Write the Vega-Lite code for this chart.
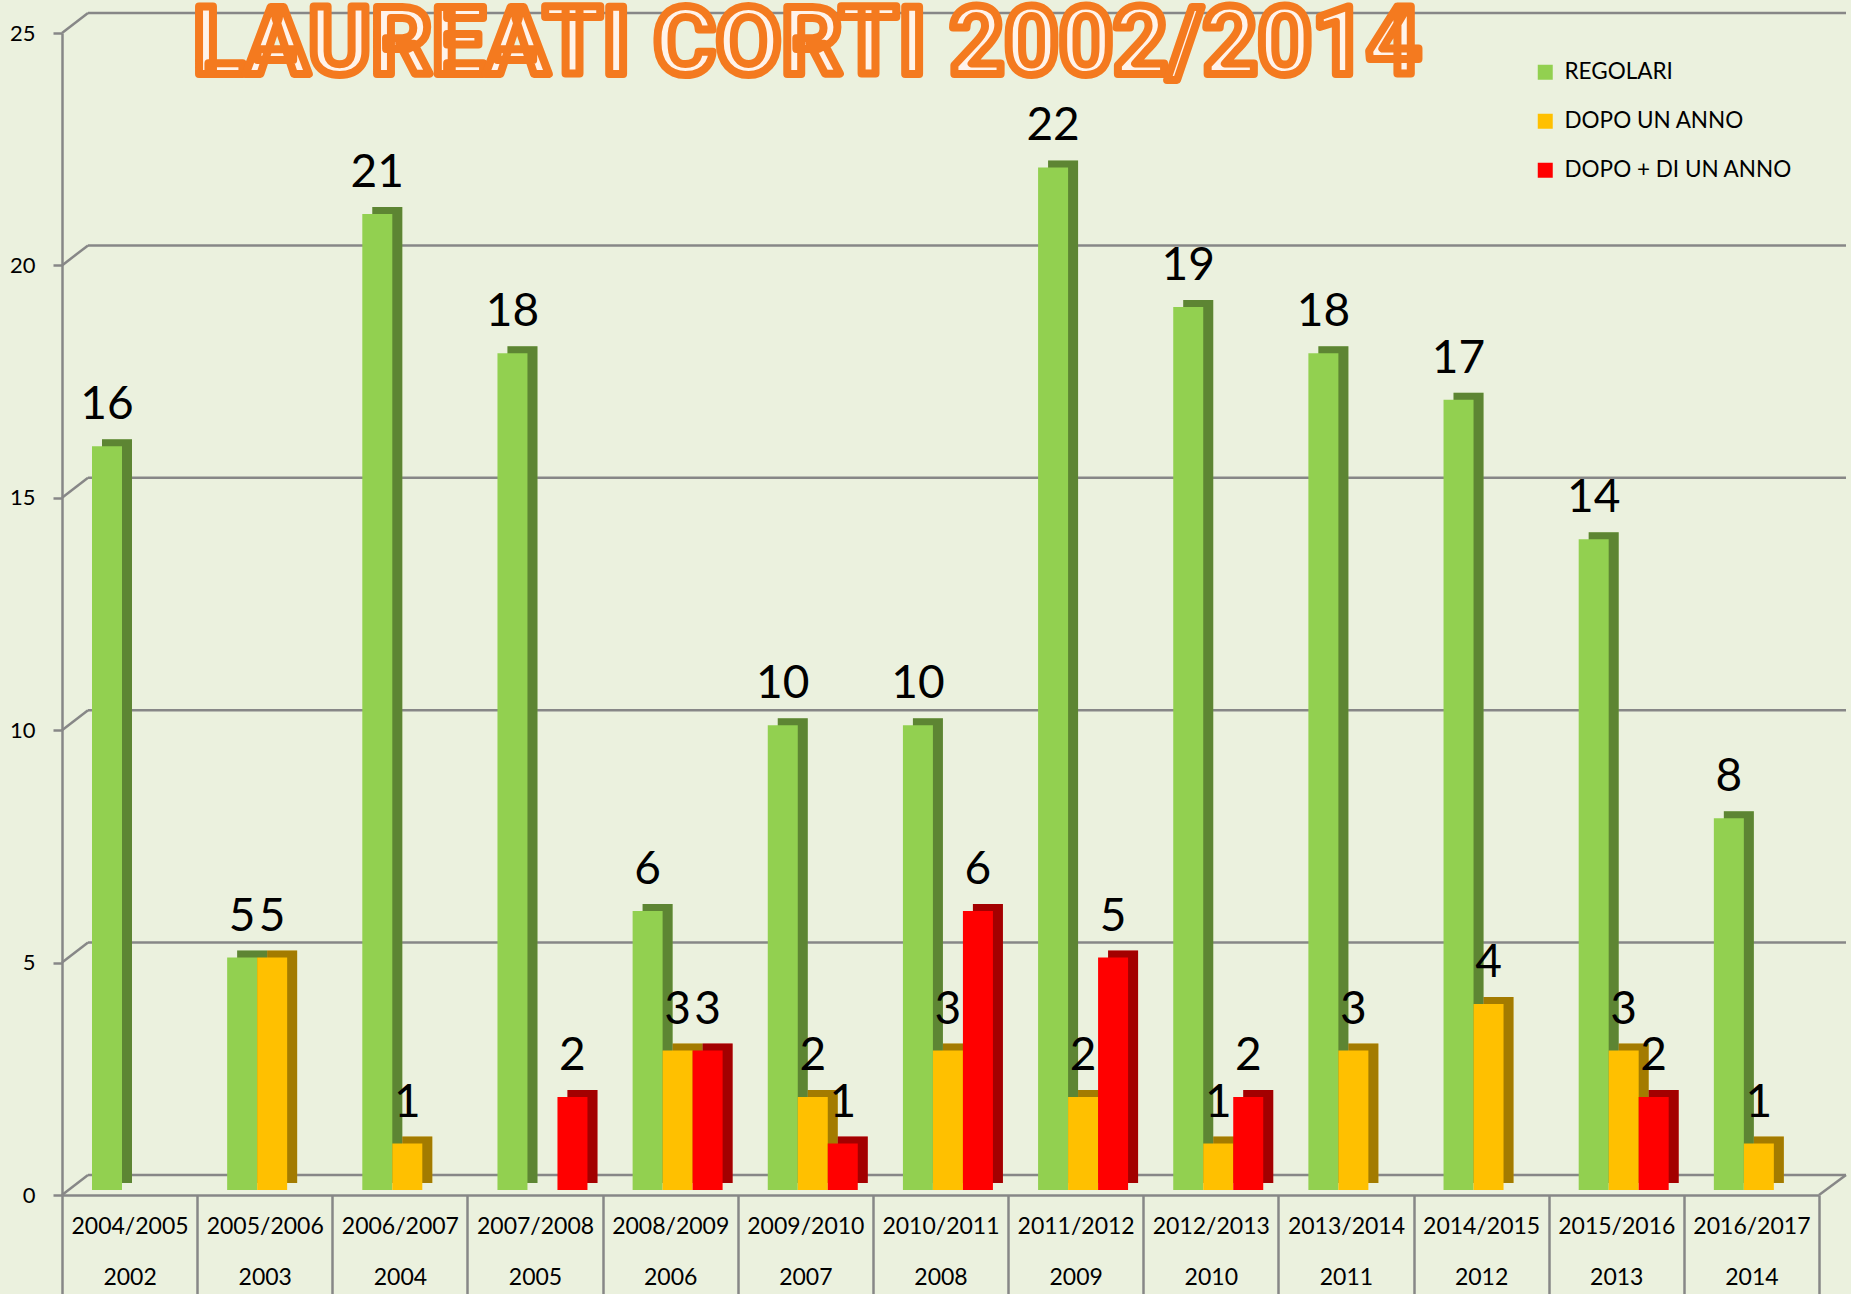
{
  "$schema": "https://vega.github.io/schema/vega-lite/v6.json",
  "autosize": {"type": "none"},
  "width": 1757,
  "height": 1162,
  "padding": {"left": 62, "top": 33, "right": 32, "bottom": 99},
  "background": "#EBF1DE",
  "config": {
    "view": {"stroke": null},
    "font": "Lato",
    "style": {"tstroke": {"stroke": "#F47A1F", "strokeWidth": 8, "strokeJoin": "round"}}
  },
  "title": {
    "text": "LAUREATI CORTI 2002/2014",
    "font": "Roboto",
    "fontSize": 95,
    "fontWeight": "bold",
    "color": "#FFF3EA",
    "anchor": "start",
    "frame": "group",
    "baseline": "alphabetic",
    "offset": 0,
    "dx": 131,
    "dy": 157,
    "style": "tstroke"
  },
  "datasets": {
    "tacche": [{"v": 0}, {"v": 5}, {"v": 10}, {"v": 15}, {"v": 20}, {"v": 25}],
    "laureati": [
      {"sessione": "2004/2005", "anno": "2002", "serie": "REGOLARI", "valore": 16},
      {"sessione": "2005/2006", "anno": "2003", "serie": "REGOLARI", "valore": 5},
      {"sessione": "2005/2006", "anno": "2003", "serie": "DOPO UN ANNO", "valore": 5},
      {"sessione": "2006/2007", "anno": "2004", "serie": "REGOLARI", "valore": 21},
      {"sessione": "2006/2007", "anno": "2004", "serie": "DOPO UN ANNO", "valore": 1},
      {"sessione": "2007/2008", "anno": "2005", "serie": "REGOLARI", "valore": 18},
      {"sessione": "2007/2008", "anno": "2005", "serie": "DOPO + DI UN ANNO", "valore": 2},
      {"sessione": "2008/2009", "anno": "2006", "serie": "REGOLARI", "valore": 6},
      {"sessione": "2008/2009", "anno": "2006", "serie": "DOPO UN ANNO", "valore": 3},
      {"sessione": "2008/2009", "anno": "2006", "serie": "DOPO + DI UN ANNO", "valore": 3},
      {"sessione": "2009/2010", "anno": "2007", "serie": "REGOLARI", "valore": 10},
      {"sessione": "2009/2010", "anno": "2007", "serie": "DOPO UN ANNO", "valore": 2},
      {"sessione": "2009/2010", "anno": "2007", "serie": "DOPO + DI UN ANNO", "valore": 1},
      {"sessione": "2010/2011", "anno": "2008", "serie": "REGOLARI", "valore": 10},
      {"sessione": "2010/2011", "anno": "2008", "serie": "DOPO UN ANNO", "valore": 3},
      {"sessione": "2010/2011", "anno": "2008", "serie": "DOPO + DI UN ANNO", "valore": 6},
      {"sessione": "2011/2012", "anno": "2009", "serie": "REGOLARI", "valore": 22},
      {"sessione": "2011/2012", "anno": "2009", "serie": "DOPO UN ANNO", "valore": 2},
      {"sessione": "2011/2012", "anno": "2009", "serie": "DOPO + DI UN ANNO", "valore": 5},
      {"sessione": "2012/2013", "anno": "2010", "serie": "REGOLARI", "valore": 19},
      {"sessione": "2012/2013", "anno": "2010", "serie": "DOPO UN ANNO", "valore": 1},
      {"sessione": "2012/2013", "anno": "2010", "serie": "DOPO + DI UN ANNO", "valore": 2},
      {"sessione": "2013/2014", "anno": "2011", "serie": "REGOLARI", "valore": 18},
      {"sessione": "2013/2014", "anno": "2011", "serie": "DOPO UN ANNO", "valore": 3},
      {"sessione": "2014/2015", "anno": "2012", "serie": "REGOLARI", "valore": 17},
      {"sessione": "2014/2015", "anno": "2012", "serie": "DOPO UN ANNO", "valore": 4},
      {"sessione": "2015/2016", "anno": "2013", "serie": "REGOLARI", "valore": 14},
      {"sessione": "2015/2016", "anno": "2013", "serie": "DOPO UN ANNO", "valore": 3},
      {"sessione": "2015/2016", "anno": "2013", "serie": "DOPO + DI UN ANNO", "valore": 2},
      {"sessione": "2016/2017", "anno": "2014", "serie": "REGOLARI", "valore": 8},
      {"sessione": "2016/2017", "anno": "2014", "serie": "DOPO UN ANNO", "valore": 1}
    ]
  },
  "layer": [
    {
      "data": {"name": "tacche"},
      "mark": {"type": "rule", "color": "#878787", "strokeWidth": 2.5, "xOffset": 26, "x2Offset": 27, "yOffset": -20},
      "encoding": {
        "x": {"value": 0},
        "x2": {"value": "width"},
        "y": {
          "field": "v",
          "type": "quantitative",
          "scale": {"domain": [0, 25], "nice": false, "zero": true},
          "axis": {
            "title": null,
            "values": [0, 5, 10, 15, 20, 25],
            "grid": false,
            "domainColor": "#878787",
            "domainWidth": 2.5,
            "tickColor": "#878787",
            "tickWidth": 2.5,
            "tickSize": 9,
            "labelPadding": 18,
            "labelFontSize": 22,
            "labelFont": "Lato",
            "labelColor": "#000000"
          }
        }
      }
    },
    {
      "data": {"name": "tacche"},
      "mark": {"type": "rule", "color": "#878787", "strokeWidth": 2.5, "x2Offset": 26, "y2Offset": -20},
      "encoding": {
        "x": {"value": 0},
        "x2": {"value": 0},
        "y": {"field": "v", "type": "quantitative"},
        "y2": {"field": "v"}
      }
    },
    {
      "data": {"name": "tacche"},
      "transform": [{"filter": "datum.v == 0"}],
      "mark": {"type": "rule", "color": "#878787", "strokeWidth": 2.5, "x2Offset": 27, "y2Offset": -20},
      "encoding": {
        "x": {"value": "width"},
        "x2": {"value": "width"},
        "y": {"field": "v", "type": "quantitative"},
        "y2": {"field": "v"}
      }
    },
    {
      "data": {"name": "laureati"},
      "mark": {"type": "bar", "yOffset": -12, "y2Offset": -12},
      "encoding": {
        "x": {
          "field": "sessione",
          "type": "nominal",
          "sort": null,
          "scale": {"paddingInner": 0, "paddingOuter": 0},
          "axis": {
            "title": null,
            "domainColor": "#878787",
            "domainWidth": 2.5,
            "tickColor": "#878787",
            "tickWidth": 2.5,
            "tickSize": 100,
            "tickBand": "extent",
            "labelPadding": -80,
            "labelFontSize": 23,
            "labelFont": "Lato",
            "labelColor": "#000000",
            "labelAngle": 0,
            "labelBaseline": "top",
            "labelLineHeight": 51,
            "labelExpr": "datum.label ? [datum.label, toString(toNumber(slice(datum.label, 0, 4)) - 2)] : ''"
          }
        },
        "xOffset": {
          "field": "serie",
          "type": "nominal",
          "scale": {"domain": ["REGOLARI", "DOPO UN ANNO", "DOPO + DI UN ANNO"], "range": [40, 130], "paddingInner": 0, "paddingOuter": 0}
        },
        "y": {"field": "valore", "type": "quantitative"},
        "color": {"field": "serie", "type": "nominal"}
      }
    },
    {
      "data": {"name": "laureati"},
      "mark": {"type": "bar", "yOffset": -12, "y2Offset": -12, "color": "#000000", "opacity": 0.36},
      "encoding": {
        "x": {"field": "sessione", "type": "nominal", "sort": null},
        "xOffset": {
          "field": "serie",
          "type": "nominal",
          "scale": {"domain": ["REGOLARI", "DOPO UN ANNO", "DOPO + DI UN ANNO"], "range": [40, 130], "paddingInner": 0, "paddingOuter": 0}
        },
        "y": {"field": "valore", "type": "quantitative"}
      }
    },
    {
      "data": {"name": "laureati"},
      "mark": {"type": "bar", "yOffset": -5, "y2Offset": -5},
      "encoding": {
        "x": {"field": "sessione", "type": "nominal", "sort": null},
        "xOffset": {
          "field": "serie",
          "type": "nominal",
          "scale": {"domain": ["REGOLARI", "DOPO UN ANNO", "DOPO + DI UN ANNO"], "range": [30, 120], "paddingInner": 0, "paddingOuter": 0}
        },
        "y": {"field": "valore", "type": "quantitative"},
        "color": {
          "field": "serie",
          "type": "nominal",
          "scale": {"domain": ["REGOLARI", "DOPO UN ANNO", "DOPO + DI UN ANNO"], "range": ["#92D050", "#FFC000", "#FF0000"]},
          "legend": {
            "title": null,
            "orient": "none",
            "legendX": 1472,
            "legendY": 28,
            "symbolType": "square",
            "symbolSize": 225,
            "symbolStrokeWidth": 0,
            "symbolOpacity": 1,
            "labelFontSize": 22.5,
            "labelFont": "Lato",
            "labelColor": "#000000",
            "labelOffset": 8,
            "labelLimit": 0,
            "rowPadding": 26
          }
        }
      }
    },
    {
      "data": {"name": "laureati"},
      "mark": {"type": "text", "fontSize": 46, "font": "Lato", "color": "#000000", "baseline": "alphabetic", "dy": -32},
      "encoding": {
        "x": {"field": "sessione", "type": "nominal", "sort": null},
        "xOffset": {
          "field": "serie",
          "type": "nominal",
          "scale": {"domain": ["REGOLARI", "DOPO UN ANNO", "DOPO + DI UN ANNO"], "range": [45, 105], "padding": 0}
        },
        "y": {"field": "valore", "type": "quantitative"},
        "text": {"field": "valore", "type": "quantitative"}
      }
    }
  ],
  "resolve": {"scale": {"xOffset": "independent"}}
}
